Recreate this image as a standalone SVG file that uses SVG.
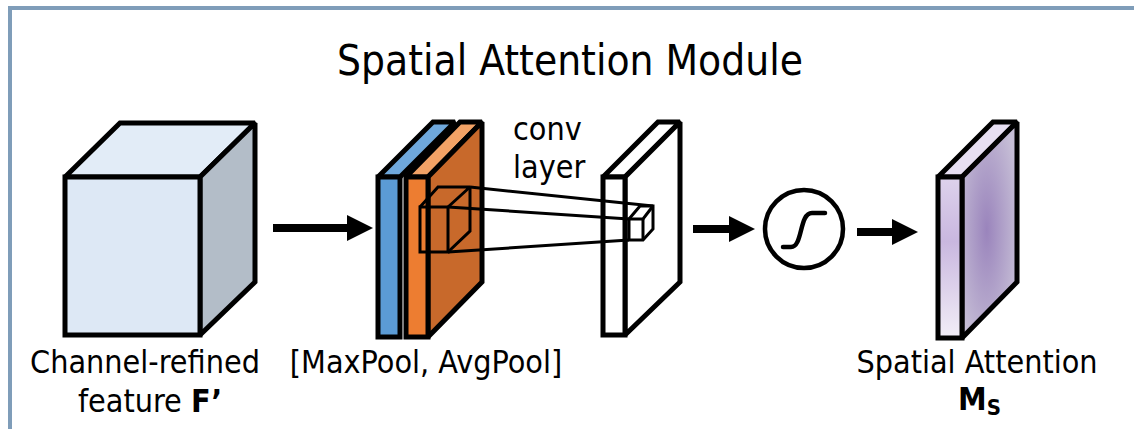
<svg xmlns="http://www.w3.org/2000/svg" width="1134" height="429" viewBox="0 0 1134 429">
  <style>
    .lbl { font-family: "DejaVu Sans Condensed", "DejaVu Sans", sans-serif; font-size: 32px; fill: #000; }
    .title { font-family: "DejaVu Sans Condensed", "DejaVu Sans", sans-serif; font-size: 42px; fill: #000; }
    .edge { stroke: #000; stroke-width: 5; stroke-linejoin: miter; stroke-miterlimit: 2; }
    .thin { fill: none; stroke: #000; stroke-width: 3; stroke-linejoin: miter; stroke-miterlimit: 2; }
    .shaft { stroke: #000; stroke-width: 8; }
  </style>
  <defs>
    <linearGradient id="msFront" x1="0" y1="0" x2="0" y2="1">
      <stop offset="0" stop-color="#ddd2ec"/>
      <stop offset="0.4" stop-color="#c9b7df"/>
      <stop offset="1" stop-color="#f2eef7"/>
    </linearGradient>
    <radialGradient id="msSide" cx="0.45" cy="0.5" r="0.6">
      <stop offset="0" stop-color="#9a84bc"/>
      <stop offset="1" stop-color="#c6bed6"/>
    </radialGradient>
  </defs>

  <rect width="1134" height="429" fill="#fff"/>

  <!-- frame -->
  <g id="frame" fill="#7f9db9">
    <rect x="8" y="6" width="1126" height="4"/>
    <rect x="8" y="6" width="4" height="423"/>
  </g>

  <text class="title" x="570" y="75" text-anchor="middle">Spatial Attention Module</text>

  <!-- input feature cube -->
  <g id="feature">
    <polygon class="edge" fill="#e2ecf7" points="65,177 120,123 255,123 200,177"/>
    <polygon class="edge" fill="#b3bdc8" points="200,177 255,123 255,282 200,335"/>
    <rect class="edge" fill="#dde8f5" x="65" y="177" width="135" height="158"/>
    <text class="lbl" x="145" y="373" text-anchor="middle">Channel-refined</text>
    <text class="lbl" x="150" y="412" text-anchor="middle">feature <tspan font-weight="bold">F’</tspan></text>
  </g>

  <!-- pooled maps -->
  <g id="pooled">
    <polygon class="edge" fill="#6fa8dc" points="378,177 433,122 455,122 400,177"/>
    <rect class="edge" fill="#5b9bd5" x="378" y="177" width="22" height="160"/>
    <polygon class="edge" fill="#f2a266" points="406,177 460,122 482,122 428,177"/>
    <polygon class="edge" fill="#c8692b" points="428,177 482,122 482,282 428,337"/>
    <rect class="edge" fill="#ed7d31" x="406" y="177" width="22" height="160"/>
    <!-- kernel -->
    <g class="thin" stroke-width="3.5">
      <rect x="420" y="207" width="28" height="45"/>
      <polyline points="420,207 438,187 470,187 448,207"/>
      <polyline points="470,187 470,231 448,252"/>
    </g>
    <text class="lbl" x="426" y="373" text-anchor="middle">[MaxPool, AvgPool]</text>
  </g>

  <!-- conv layer -->
  <g id="conv">
    <polygon class="edge" fill="#fff" points="603,177 658,122 680,122 625,177"/>
    <polygon class="edge" fill="#fff" points="625,177 680,122 680,282 625,335"/>
    <rect class="edge" fill="#fff" x="603" y="177" width="22" height="158"/>
    <g class="thin">
      <polygon fill="#fff" points="629,219 640,206 653,206 653,229 643,240 629,240"/>
      <polyline points="629,219 643,219 653,206"/>
      <line x1="643" y1="219" x2="643" y2="240"/>
    </g>
    <text class="lbl" x="513" y="140">conv</text>
    <text class="lbl" x="513" y="178">layer</text>
  </g>

  <!-- sigmoid -->
  <g id="sigmoid">
    <circle cx="804" cy="229" r="39" fill="#fff" stroke="#000" stroke-width="4.5"/>
    <path d="M783,247 H791 C803,247 799,213 812,213 H825" fill="none" stroke="#000" stroke-width="4.5" stroke-linecap="round"/>
  </g>

  <!-- spatial attention map -->
  <g id="attention">
    <polygon class="edge" fill="#e7dff2" points="938,177 993,122 1017,122 962,177"/>
    <polygon class="edge" fill="url(#msSide)" points="962,177 1017,122 1017,282 962,338"/>
    <rect class="edge" fill="url(#msFront)" x="938" y="177" width="24" height="161"/>
    <text class="lbl" x="977" y="373" text-anchor="middle">Spatial Attention</text>
    <text class="lbl" x="958" y="410" font-weight="bold">M<tspan font-size="22" dy="5">S</tspan></text>
  </g>

  <!-- connectors -->
  <g id="connectors">
    <line class="thin" x1="470" y1="187" x2="653" y2="206"/>
    <line class="thin" x1="448" y1="207" x2="629" y2="219"/>
    <line class="thin" x1="448" y1="252" x2="629" y2="240"/>

    <line class="shaft" x1="273" y1="228" x2="350" y2="228"/>
    <polygon points="347,215 373,228 347,241"/>
    <line class="shaft" x1="693" y1="229" x2="732" y2="229"/>
    <polygon points="729,216 755,229 729,242"/>
    <line class="shaft" x1="857" y1="232" x2="895" y2="232"/>
    <polygon points="892,219 918,232 892,245"/>
  </g>
</svg>
